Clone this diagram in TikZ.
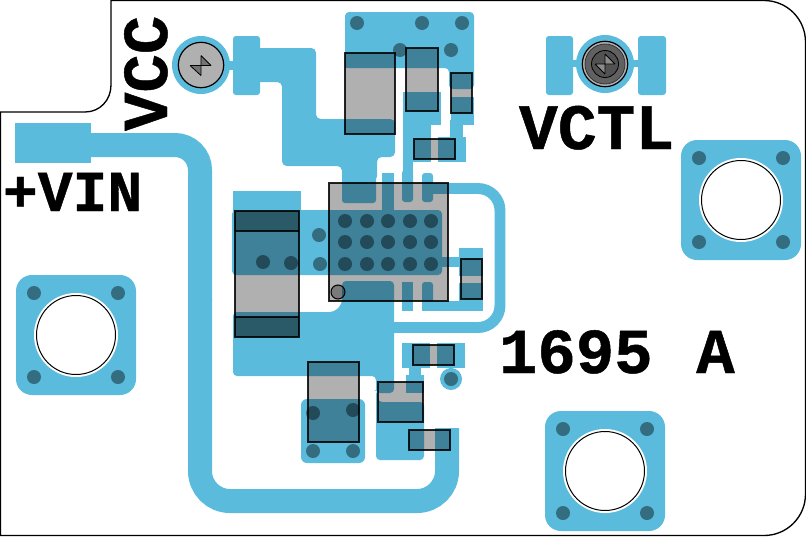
\documentclass[tikz,border=0pt]{standalone}
\usepackage{fontspec}
\newfontfamily\silkfont[FakeBold=0.75]{Liberation Mono Bold}
\definecolor{cu}{HTML}{5ABBDD}
\tikzset{
  x=0.75pt,y=-0.75pt,
  copper/.style={fill=cu,draw=none},
  rc/.style={rounded corners=2.2pt},
  part/.style={fill=black,fill opacity=.31,draw=black,draw opacity=.85,line width=.95pt},
  band/.style={fill=black,fill opacity=.31,draw=none},
  via/.style={fill=black,fill opacity=.42,draw=none},
  board/.style={draw=black,line width=1pt},
  silk/.style={text=black,inner sep=0pt,outer sep=0pt},
  trace/.style={draw=cu,line width=18pt,line cap=butt},
  ring/.style={draw=cu,line width=8.2pt,line cap=butt},
}
\newcommand{\mounthole}[2]{%
  \fill[copper,rounded corners=12pt] (#1-60,#2-60) rectangle (#1+60,#2+60);
  \fill[white] (#1,#2) circle (42);
  \draw[black,line width=.75pt] (#1,#2) circle (39.5);
  \foreach \dx in {-42,42}\foreach \dy in {-42,42}\fill[via] (#1+\dx,#2+\dy) circle (7);
}
\begin{document}
\begin{tikzpicture}
\useasboundingbox (0,0) rectangle (806,536);
\fill[white] (0,0) rectangle (806,536);
% board outline
\draw[board] (0.5,536) -- (0.5,112) -- (85,112) .. controls (100,112) and (111,100) .. (111,85) -- (111,0.5) -- (764,0.5) .. controls (787,0.5) and (805.5,19) .. (805.5,42) -- (805.5,494) .. controls (805.5,517) and (787,535.5) .. (764,535.5) -- (0.5,535.5);
% mounting holes
\mounthole{741}{200}
\mounthole{76}{335}
\mounthole{605}{471}
% VIN trace
\fill[copper] (15,123) rectangle (91,163);
\draw[trace,rounded corners=18.75pt] (85,145) -- (200,145) -- (200,300);
\draw[trace,rounded corners=22.5pt] (200,299) -- (200,501) -- (447,501) -- (447,428);
% VCC
\fill[copper] (201,65) circle (29);
\fill[copper] (225,61) rectangle (240,70);
\fill[copper,rc] (233,36) rectangle (260,95);
\fill[copper,rounded corners=3.5pt] (255,48) -- (316,48) -- (316,119) -- (395,119) -- (395,157) -- (377,157) -- (377,181) -- (342,181) -- (342,166) -- (282,166) -- (282,82) -- (255,82) -- cycle;
% VCTL
\fill[copper] (605,64) circle (29);
\fill[copper] (565,60) rectangle (645,67);
\fill[copper,rc] (546,36) rectangle (573,95);
\fill[copper,rc] (638,36) rectangle (666,95);
% top pad
\fill[copper,rounded corners=3pt] (345,12) -- (474,12) -- (474,89) -- (449,89) -- (449,68) -- (345,68) -- cycle;
\fill[copper] (345,60) rectangle (395,68);
\fill[copper] (451,97) rectangle (474,125);
\fill[copper] (450,120) rectangle (463,140);
\fill[copper] (403,92) rectangle (441,125);
\fill[copper] (403,120) rectangle (431,162);
\fill[copper] (403,160) rectangle (413,182);
\fill[copper] (438,137) rectangle (466,162);
% IC surroundings
\fill[copper,rc] (342,170) rectangle (376,203);
\fill[copper] (382,173) rectangle (394,212);
\fill[copper,rc] (402,170) rectangle (413,202);
\fill[copper,rc] (422,173) rectangle (433,202);
\fill[copper] (422,183) rectangle (440,194);
\fill[copper] (233,191) rectangle (301,212);
\fill[copper,rounded corners=3pt] (232,210) rectangle (442,275);
\fill[copper] (440,257) rectangle (462,267);
\fill[copper] (459,248) rectangle (483,276);
\fill[copper] (459,283) rectangle (483,311);
\fill[copper] (422,301) rectangle (483,311);
\fill[copper,rc] (422,282) rectangle (433,303);
\fill[copper] (402,282) rectangle (413,311);
% ring trace
\draw[ring,rounded corners=16.5pt] (430,188.5) -- (500,188.5) -- (500,327.5) -- (390,327.5);
% lower polygon
\fill[copper,rounded corners=3pt] (233,312) -- (334,312) -- (342,304) -- (342,281) -- (394,281) -- (394,393) -- (376,393) -- (376,376) -- (233,376) -- cycle;
\fill[copper,rounded corners=3pt] (376,390) -- (378,390) -- (378,402) -- (424,402) -- (424,460) -- (376,460) -- cycle;
\fill[copper] (406,375) rectangle (424,393);
\fill[copper] (409,366) rectangle (421,376);
\fill[copper] (402,343) rectangle (430,368);
\fill[copper] (437,343) rectangle (465,368);
\fill[copper] (449,366) rectangle (453,372);
\fill[copper] (451,379) circle (11);
\fill[copper,rounded corners=4.5pt] (301,399) rectangle (365,463);
% vias
\foreach \x/\y in {357/23,422/23,462/23,400/50,451/50,
  345/221,367/221,388/221,410/221,431/221,
  345/242,367/242,388/242,410/242,431/242,
  345/264,367/264,388/264,410/264,431/264,
  263/262,291/263,319/235,320/264,
  313/413,353/410,313/451,353/451,451/379}
  \fill[via] (\x,\y) circle (7);
% parts
\path[part] (345,53) rectangle (395,134);
\path[part] (406,48) rectangle (438,111);
\path[part] (451,73) rectangle (472,113);
\path[part] (414,139) rectangle (455,159);
\path[part] (329,183) rectangle (448,301);
\path[part] (235,211) rectangle (299,337);
\path[band] (235,211) rectangle (299,231);
\path[band] (235,317) rectangle (299,337);
\draw[black,opacity=.85,line width=.8pt] (235,231) -- (299,231) (235,317) -- (299,317);
\path[part] (461,259) rectangle (482,299);
\path[part] (413,345) rectangle (454,365);
\path[part] (308,362) rectangle (359,442);
\path[part] (378,382) rectangle (423,422);
\path[part] (409,430) rectangle (450,450);
% pin 1
\path[fill=black,fill opacity=.3,draw=black,line width=.8pt] (338,292) circle (7);
% VCC screw
\fill[fill=black!31] (201,65) circle (22.7);
\draw[black,line width=.9pt] (201,65) circle (22.7);
\fill[black!55] (201,55.5) -- (211,65.5) -- (201,65.5) -- cycle;
\fill[black!55] (190,65.5) -- (201,75.5) -- (201,65.5) -- cycle;
\draw[black,line width=.6pt] (201,55.5) -- (201,75.5) (190,65.5) -- (211,65.5) (201,55.5) -- (211,65.5) (190,65.5) -- (201,75.5);
% VCTL screw
\fill[black!31] (605,64) circle (22.7);
\draw[black,line width=.9pt] (605,64) circle (22.7);
\fill[black!62] (605,64) circle (20);
\draw[black!80,line width=.6pt] (605,64) circle (20);
\fill[black!68] (605,64) circle (13.5);
\draw[black,line width=.6pt] (605,64) circle (13.5);
\fill[black!45] (605,54) -- (615,64) -- (605,64) -- cycle;
\fill[black!45] (595,64) -- (605,74) -- (605,64) -- cycle;
\draw[black,line width=.6pt] (605,54) -- (605,74) (595,64) -- (615,64) (605,54) -- (615,64) (595,64) -- (605,74);
% text
\node[silk,font=\fontsize{48pt}{48pt}\silkfont,anchor=base west,rotate=90] (vcc) at (167,131) {VCC};
\node[silk,font=\fontsize{43.5pt}{44pt}\silkfont,anchor=base west] (vin) at (3,211) {+VIN};
\node[silk,font=\fontsize{48.5pt}{49pt}\silkfont,anchor=base west] (vctl) at (519,149) {VCTL};
\node[silk,font=\fontsize{48pt}{48pt}\silkfont,anchor=base west] (rev) at (499,373) {1695\hspace{4pt} A};
\end{tikzpicture}
\end{document}
